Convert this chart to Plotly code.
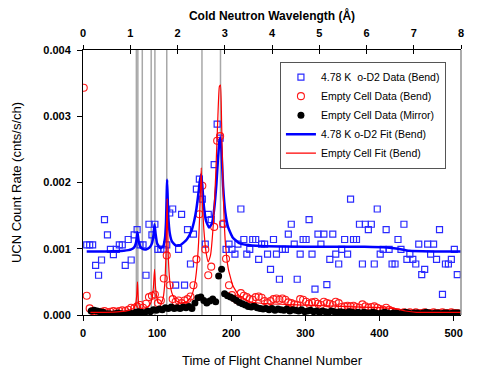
import plotly.graph_objects as go

# channel positions (every 4th time-of-flight channel)
bend_ch = list(range(5, 506, 4))
od2_bend = [
    0.00106, 0.00106, 0.00106, 0.00075, 0.0006, 0.00083, 0.00144, 0.00121, 0.00099, 0.00091,
    0.00099, 0.00106, 0.00106, 0.00075, 0.00114, 0.00083, 0.00121, 0.00129, 0.00106, 0.00106,
    0.0006, 0.00137, 0.00121, 0.00137, 0.00099, 0.00099, 0.00099, 0.00106, 0.00154, 0.0016,
    0.00045, 0.00099, 0.00152, 0.00045, 0.00129, 0.00077, 0.00122, 0.0019, 0.00205, 0.00175,
    0.00107, 0.00152, 0.00144, 0.00227, 0.00288, 0.00267, 0.00137, 0.00099, 0.00107, 0.00099,
    0.00092, 0.00107,
    0.0016, 0.00114, 0.00092, 0.00099, 0.00114, 0.00114, 0.00084, 0.00107, 0.00107, 0.00092,
    0.00069, 0.00114, 0.00092, 0.00054, 0.00099, 0.00099, 0.00122, 0.00137, 0.00107, 0.00054,
    0.00092, 0.00114, 0.00114, 0.00144, 0.00092, 0.00039, 0.00122, 0.00107, 0.00122, 0.00046,
    0.00084, 0.00122, 0.00092, 0.00077, 0.00099, 0.00114, 0.00092, 0.00175, 0.00114, 0.00114,
    0.00137, 0.00077, 0.00137, 0.00129, 0.00137, 0.00077, 0.0016, 0.00092, 0.00099, 0.00129,
    0.00099, 0.00077, 0.00077, 0.00114, 0.00099, 0.00137, 0.00084, 0.00092, 0.00084, 0.00077,
    0.00107, 0.00061, 0.00069, 0.00107, 0.00092, 0.00107, 0.00084, 0.00129, 0.00031, 0.00077,
    0.00077, 0.00084, 0.00099, 0.00061,
]

empty_ch = list(range(1, 506, 4))
empty_bend = [
    0.00343, 0.00029, 0.0001, 0.00006, 0.00005, 0.00004, 0.00005, 0.00006, 0.00004, 0.00005,
    0.00006, 0.00005, 0.00006, 0.00007, 0.00006, 0.00008, 0.00011, 0.0001, 0.00013, 0.00015,
    0.00011, 0.00017, 0.00027, 0.00029, 0.00031, 0.00018, 0.00022, 0.00055, 0.0009, 0.00045,
    0.00024, 0.0002, 0.00022, 0.00018, 0.00022, 0.00024, 0.00028, 0.00045, 0.00084, 0.00152,
    0.00195, 0.00099, 0.0006, 0.00073, 0.00133, 0.00263, 0.0027, 0.00138, 0.00085, 0.00045,
    0.0003, 0.00025, 0.00022, 0.00033, 0.00029, 0.00027, 0.00024, 0.00023, 0.00027, 0.00028,
    0.00026, 0.00021, 0.00018, 0.00021, 0.00024, 0.00025, 0.00023, 0.00025, 0.00023, 0.00019,
    0.00018, 0.00016, 0.00015, 0.00024, 0.00023, 0.0002, 0.00017, 0.00019, 0.0002, 0.00017,
    0.00015, 0.0002, 0.00018, 0.00017, 0.00015, 0.0002, 0.00018, 0.00012, 0.00013, 0.00014,
    0.00013, 0.00014, 0.00012, 0.00011, 0.00016, 0.00013, 0.00011, 0.00012, 0.00013, 0.00011,
    0.00009, 0.00008, 0.00011, 0.00008, 0.00006, 0.00004, 0.00004, 0.00003, 0.00004, 0.00003,
    0.00004, 0.00003, 0.00004, 0.00003, 0.00003, 0.00004, 0.00003, 0.00003, 0.00004, 0.00003,
    0.00003, 0.00004, 0.00003, 0.00003, 0.00004, 0.00003, 0.00003,
]

mirror_ch = list(range(11, 508, 4))
empty_mirror = [
    0.00006, 0.00007, 0.00006, 0.00005, 0.00004, 0.00002, 0.00002, 0.00001, 0.00002, 0.00003,
    0.00002, 0.00001, 0.00002, 0.00003, 0.00002, 0.00004, 0.00005, 0.00004, 0.00003, 0.00006,
    0.00005, 0.00008, 0.00007, 0.00009, 0.00008, 0.00011, 0.0001, 0.00012, 0.0001, 0.00011,
    0.0001, 0.00012, 0.00011, 0.00013, 0.0001, 0.00018, 0.00026, 0.00027, 0.00022, 0.00018,
    0.00021, 0.00024, 0.0002, 0.00059, 0.00069, 0.00032, 0.00029, 0.00027, 0.00025, 0.00022,
    0.00019, 0.00017, 0.00015, 0.00013, 0.00012, 0.00014, 0.00011, 0.0001, 0.00009, 0.0001,
    0.00008, 0.0001, 0.00007, 0.00009, 0.00008, 0.00007, 0.00009, 0.00006, 0.00008, 0.00007,
    0.00006, 0.00008, 0.00005, 0.00006, 0.00007, 0.00005, 0.00006, 0.00004, 0.00006, 0.00005,
    0.00004, 0.00006, 0.00005, 0.00004, 0.00005, 0.00004, 0.00003, 0.00005, 0.00004, 0.00003,
    0.00004, 0.00003, 0.00004, 0.00003, 0.00003, 0.00004, 0.00003, 0.00002, 0.00003, 0.00004,
    0.00003, 0.00002, 0.00003, 0.00003, 0.00002, 0.00003, 0.00004, 0.00003, 0.00002, 0.00003,
    0.00003, 0.00002, 0.00003, 0.00004, 0.00003, 0.00002, 0.00003, 0.00003, 0.00002, 0.00003,
    0.00003, 0.00002, 0.00003, 0.00003, 0.00003,
]

fit_od2_x = [5, 30, 55, 65, 69, 71, 72.5, 73.5, 75, 77, 80, 85, 90, 93, 95, 96.5, 98, 100, 104,
             108, 110.5, 112, 113.5, 115, 117, 120, 125, 132, 140, 146, 150, 153, 156, 158,
             159.5, 161, 163, 166, 170, 174, 177, 180, 182, 184, 185.5, 187, 189, 192, 196, 202,
             210, 220, 240, 300, 380, 410, 425, 440, 470, 510]
fit_od2_y = [0.00096, 0.00096, 0.00097, 0.00099, 0.00102, 0.00107, 0.00116, 0.00125, 0.00112,
             0.00104, 0.001, 0.00099, 0.00102, 0.00108, 0.0012, 0.00137, 0.00122, 0.00108,
             0.00101, 0.00103, 0.00115, 0.0014, 0.00204, 0.0015, 0.00124, 0.00111, 0.00105,
             0.00106, 0.00114, 0.00126, 0.00142, 0.0016, 0.00186, 0.00205, 0.00212, 0.00195,
             0.00165, 0.00142, 0.00132, 0.00138, 0.0016, 0.00198, 0.00233, 0.00262, 0.00268,
             0.00245, 0.00195, 0.00155, 0.00132, 0.00117, 0.00109, 0.00106, 0.00104, 0.00103,
             0.00103, 0.00102, 0.001, 0.00097, 0.00096, 0.00096]

fit_empty_x = [10, 30, 50, 62, 68, 71, 72.5, 73.5, 75, 78, 85, 90, 93, 95, 96.5, 98, 101, 105,
               108, 110.5, 112, 113.5, 115, 117, 120, 125, 132, 140, 146, 150, 153, 156, 158,
               159.5, 161, 163, 166, 169, 172, 176, 179, 182, 184, 185.5, 187, 189, 192, 196,
               202, 210, 225, 250, 300, 350, 400, 420, 435, 450, 510]
fit_empty_y = [0.00004, 0.00004, 0.00005, 0.00007, 0.0001, 0.00016, 0.0003, 0.0005, 0.00018,
               0.0001, 0.00011, 0.00015, 0.00024, 0.00042, 0.00069, 0.0004, 0.0002, 0.00017,
               0.00025, 0.0005, 0.00095, 0.00175, 0.0009, 0.00052, 0.00033, 0.00022, 0.00018,
               0.0002, 0.00028, 0.00042, 0.00065, 0.0011, 0.0017, 0.00222, 0.0017, 0.0013,
               0.00095, 0.0008, 0.0009, 0.0014, 0.0021, 0.003, 0.00345, 0.00347, 0.0029, 0.0019,
               0.0011, 0.0007, 0.00045, 0.0003, 0.0002, 0.00017, 0.00015, 0.00013, 0.00011,
               0.0001, 0.00006, 0.00004, 0.00004]

# Bragg edge channels marked with grey lines
edge_ch = [72, 74, 80, 92, 97, 113, 160.5, 185.5]

x_max = 510
wl_max = 8

FONT = "Arial, Liberation Sans, sans-serif"

fig = go.Figure()
fig.add_trace(go.Scatter(
    x=bend_ch, y=od2_bend, mode='markers', name='4.78 K  o-D2 Data (Bend)',
    marker=dict(symbol='square-open', size=6, color='#2a2aff', line=dict(width=1.2)),
))
fig.add_trace(go.Scatter(
    x=empty_ch, y=empty_bend, mode='markers', name='Empty Cell Data (Bend)',
    marker=dict(symbol='circle-open', size=7, color='#ff1a1a', line=dict(width=1.1)),
))
fig.add_trace(go.Scatter(
    x=mirror_ch, y=empty_mirror, mode='markers', name='Empty Cell Data (Mirror)',
    marker=dict(symbol='circle', size=7, color='black'),
))
fig.add_trace(go.Scatter(
    x=fit_od2_x, y=fit_od2_y, mode='lines', name='4.78 K o-D2 Fit (Bend)',
    line=dict(color='#0000ff', width=2.5, shape='spline', smoothing=0.4),
))
fig.add_trace(go.Scatter(
    x=fit_empty_x, y=fit_empty_y, mode='lines', name='Empty Cell Fit (Bend)',
    line=dict(color='#ff0000', width=1.2, shape='spline', smoothing=0.4),
))
# invisible traces to carry the top wavelength axes
fig.add_trace(go.Scatter(x=[0, wl_max], y=[None, None], xaxis='x2', showlegend=False,
                         hoverinfo='skip'))
fig.add_trace(go.Scatter(x=[0, wl_max], y=[None, None], xaxis='x3', showlegend=False,
                         hoverinfo='skip'))

for ch in edge_ch:
    fig.add_shape(type='line', xref='x', yref='paper', x0=ch, x1=ch, y0=0, y1=1,
                  line=dict(color='#a8a8a8', width=1.5), layer='below')
fig.add_shape(type='line', xref='paper', yref='paper', x0=1, x1=1, y0=0, y1=1,
              line=dict(color='#909090', width=1.5))

tickfont = dict(family=FONT, size=11, color='black', weight='bold')

# the page adds an 8 px body margin, so the figure is 8 px smaller than the window
fig.update_layout(
    width=477, height=361,
    margin=dict(l=75, r=24, t=42, b=54),
    paper_bgcolor='white', plot_bgcolor='white',
    font=dict(family=FONT, color='black'),
    xaxis=dict(
        range=[0, x_max], tickvals=[0, 100, 200, 300, 400, 500], automargin=False,
        ticks='outside', ticklen=5, tickcolor='black', tickfont=tickfont, ticklabelstandoff=3,
        showline=True, linecolor='black', linewidth=1, showgrid=False, zeroline=False,
        title=dict(text='Time of Flight Channel Number', font=dict(family=FONT, size=13),
                   standoff=17),
    ),
    xaxis2=dict(
        range=[0, wl_max], overlaying='x', side='top', anchor='y', dtick=1, automargin=False,
        ticks='outside', ticklen=4, tickcolor='black', tickfont=tickfont, ticklabelstandoff=4,
        showline=True, linecolor='black', linewidth=1, showgrid=False, zeroline=False,
        title=dict(text='Cold Neutron Wavelength (Å)',
                   font=dict(family=FONT, size=12, weight='bold'), standoff=10),
    ),
    xaxis3=dict(
        range=[0, wl_max], overlaying='x', side='top', anchor='y', dtick=1, automargin=False,
        ticks='inside', ticklen=4, tickcolor='black', showticklabels=False,
        showgrid=False, zeroline=False,
    ),
    yaxis=dict(
        range=[0, 0.004], tickvals=[0, 0.001, 0.002, 0.003, 0.004], tickformat='.3f',
        automargin=False,
        ticks='outside', ticklen=5, tickcolor='black', tickfont=tickfont, ticklabelstandoff=4,
        showline=True, linecolor='black', linewidth=1, showgrid=False, zeroline=False,
        title=dict(text='UCN Count Rate (cnts/s/ch)', font=dict(family=FONT, size=13),
                   standoff=18),
    ),
    legend=dict(
        x=0.521, y=0.956, xanchor='left', yanchor='top', itemwidth=30,
        entrywidth=130, entrywidthmode='pixels',
        bgcolor='white', bordercolor='#555555', borderwidth=1,
        font=dict(family=FONT, size=10.5), tracegroupgap=0,
    ),
    showlegend=True,
)

fig.write_html("out.html")
